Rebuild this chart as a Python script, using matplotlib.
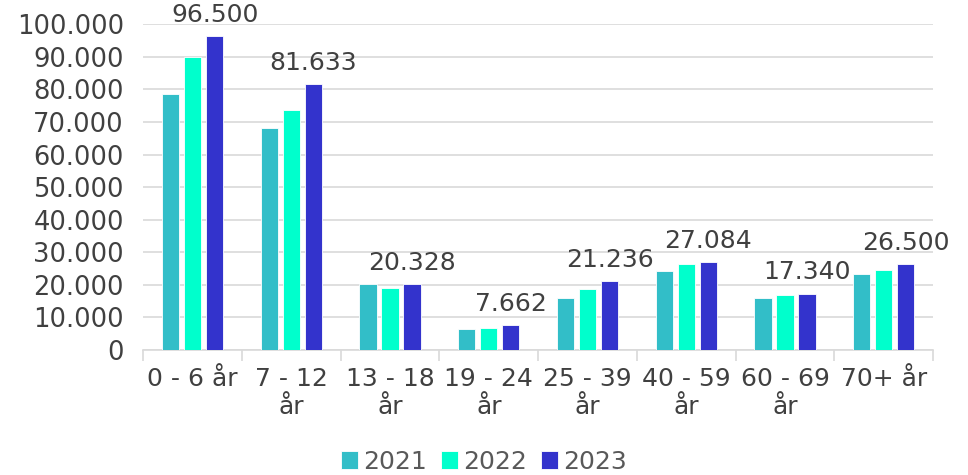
import matplotlib.pyplot as plt
import numpy as np

# data
categories = ['0 - 6 år', '7 - 12\når', '13 - 18\når', '19 - 24\når', '25 - 39\når',
              '40 - 59\når', '60 - 69\når', '70+ år']
years = ['2021', '2022', '2023']
v2021 = [78600, 68200, 20300, 6600, 15900, 24400, 16100, 23200]
v2022 = [90000, 73800, 19000, 6900, 18800, 26300, 16900, 24600]
v2023 = [96500, 81633, 20328, 7662, 21236, 27084, 17340, 26500]
colors = ['#32BEC8', '#00FFCC', '#3333CC']

fig = plt.figure(figsize=(9.68, 4.75), dpi=100)
ax = fig.add_axes([0.148, 0.263, 0.816, 0.686])

x = np.arange(len(categories))
w = 0.175
step = 0.223
for i, (vals, c, lab) in enumerate(zip([v2021, v2022, v2023], colors, years)):
    ax.bar(x + (i - 1) * step, vals, width=w, color=c, label=lab,
           edgecolor='white', linewidth=0.6, zorder=3)

# labels only on 2023
for xi, v in zip(x, v2023):
    ax.text(xi + step, v + 2800, f'{v:,}'.replace(',', '.'), ha='center', va='bottom',
            fontsize=18, color='#404040', zorder=4)

ax.set_xlim(-0.5, len(categories) - 0.5)
ax.set_ylim(0, 100000)
yt = np.arange(0, 100001, 10000)
ax.set_yticks(yt)
ax.set_yticklabels([f'{t:,}'.replace(',', '.') for t in yt], fontsize=18.5, color='#404040')
ax.grid(axis='y', color='#D9D9D9', linewidth=1.2, zorder=0)

ax.set_xticks(x)
ax.set_xticklabels(categories, fontsize=18, color='#404040', linespacing=1.25)
ax.tick_params(axis='x', length=0, pad=12)
ax.tick_params(axis='y', length=0, pad=14)
ax.set_xticks(np.arange(-0.5, len(categories), 1), minor=True)
ax.tick_params(axis='x', which='minor', length=8, color='#D9D9D9', width=1.2)

for s in ['top', 'right', 'left']:
    ax.spines[s].set_visible(False)
ax.spines['bottom'].set_color('#D9D9D9')
ax.spines['bottom'].set_linewidth(1.2)

leg = fig.legend(loc='lower center', bbox_to_anchor=(0.5, -0.045), ncol=3, frameon=False,
                 fontsize=18, handlelength=0.7, handleheight=0.7, handletextpad=0.2,
                 columnspacing=0.55)
for t in leg.get_texts():
    t.set_color('#595959')

fig.savefig('out.png', dpi=100)
